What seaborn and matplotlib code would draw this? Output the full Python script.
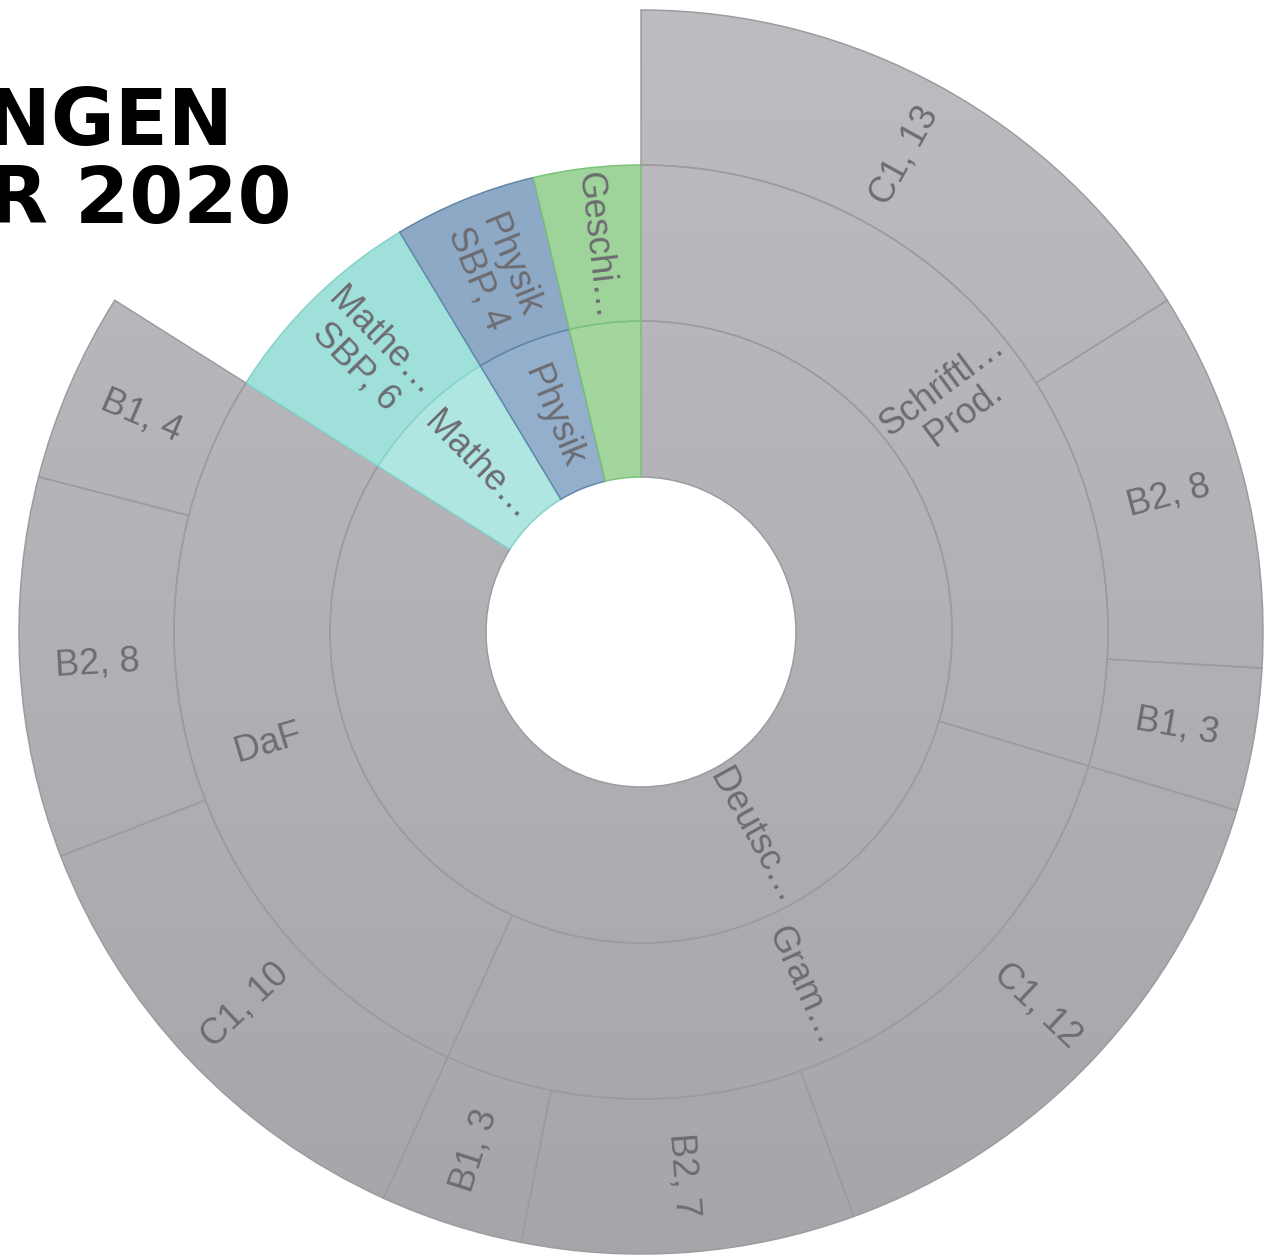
import numpy as np
import matplotlib.pyplot as plt
import seaborn as sns
from matplotlib.colors import LinearSegmentedColormap

# Hierarchy: Fach -> Bereich -> Niveau
fach_labels = ["Deutsc…", "Mathe…", "Physik", ""]
fach_values = [68, 6, 4, 3]

bereich_labels = ["Schriftl…\nProd.", "Gram…", "DaF", "Mathe…\nSBP, 6", "Physik\nSBP, 4", "Geschi…"]
bereich_values = [24, 22, 22, 6, 4, 3]

niveau_labels = ["C1", "B2", "B1", "C1", "B2", "B1", "C1", "B2", "B1"]
niveau_values = [13, 8, 3, 12, 7, 3, 10, 8, 4]

title_lines = ["ANMELDUNGEN", "SOMMER 2020"]

sns.set_style("white")
plt.rcParams['font.family'] = ['Liberation Sans', 'DejaVu Sans']

W, H = 1271, 1255
fig = plt.figure(figsize=(W / 100, H / 100), dpi=100)
ax = fig.add_axes([0, 0, 1, 1])

cx, cy = 641, H - 632
radii = [155, 311, 467, 622]
total = sum(fach_values)

grey_edge = "#9c9ca0"
text_col = "#6c6c71"

# colours for the coloured subjects (inner ring, middle ring, edge)
fach_cols = [None, "#b0e6e1", "#94afcb", "#a2d69d"]
bereich_cols = [None, None, None, "#a0e0da", "#8ea9c5", "#9ed39a"]
edge_cols = {"#b0e6e1": "#86d3cb", "#a0e0da": "#86d3cb",
             "#94afcb": "#5f87aa", "#8ea9c5": "#5f87aa",
             "#a2d69d": "#7cc27a", "#9ed39a": "#7cc27a"}

grey_cmap = LinearSegmentedColormap.from_list("greys", ["#a6a6aa", "#bdbdc1"])
grad = np.linspace(0, 1, 256).reshape(-1, 1)


def ring(values, cols, r_in, r_out):
    wedges, _ = ax.pie(values, radius=r_out, center=(cx, cy), startangle=90,
                       counterclock=False, colors=["white"] * len(values),
                       wedgeprops=dict(width=r_out - r_in, linewidth=1.1))
    for w, c in zip(wedges, cols):
        w.set_zorder(2)
        if c is None:
            w.set_facecolor("none")
            w.set_edgecolor(grey_edge)
            im = ax.imshow(grad, extent=(cx - radii[3], cx + radii[3], cy - radii[3], cy + radii[3]),
                           origin="lower", cmap=grey_cmap, aspect="auto", zorder=1)
            im.set_clip_path(w)
        elif c == "gap":
            w.set_visible(False)
        else:
            w.set_facecolor(c)
            w.set_edgecolor(edge_cols[c])
    return wedges


def put_label(text, start, value, r_in, r_out):
    mid = (start + value / 2) * 360 / total
    th = np.deg2rad(90 - mid)
    r = (r_in + r_out) / 2
    rot = (90 - mid + 180) % 360 - 180
    if rot > 90:
        rot -= 180
    elif rot < -90:
        rot += 180
    ax.text(cx + r * np.cos(th), cy + r * np.sin(th), text, rotation=rot,
            rotation_mode="anchor", ha="center", va="center", multialignment="center",
            fontsize=26, color=text_col, zorder=4, linespacing=1.0)


ring(fach_values, fach_cols, radii[0], radii[1])
ring(bereich_values, bereich_cols, radii[1], radii[2])
gap = total - sum(niveau_values)
ring(niveau_values + [gap], [None] * len(niveau_values) + ["gap"], radii[2], radii[3])

start = 0
for lab, v in zip(fach_labels, fach_values):
    if lab:
        put_label(lab, start, v, radii[0], radii[1])
    start += v

start = 0
for lab, v in zip(bereich_labels, bereich_values):
    put_label(lab, start, v, radii[1], radii[2])
    start += v

start = 0
for lab, v in zip(niveau_labels, niveau_values):
    put_label(f"{lab}, {v}", start, v, radii[2], radii[3])
    start += v

# title, cut off at the left edge
ax.text(234, H - 145, title_lines[0], ha="right", va="baseline", fontsize=56,
        fontweight="bold", color="black", family="DejaVu Sans")
ax.text(292, H - 223, title_lines[1], ha="right", va="baseline", fontsize=56,
        fontweight="bold", color="black", family="DejaVu Sans")

ax.set_xlim(0, W)
ax.set_ylim(0, H)
ax.set_aspect("equal")
ax.axis("off")
fig.savefig("out.png", dpi=100)
